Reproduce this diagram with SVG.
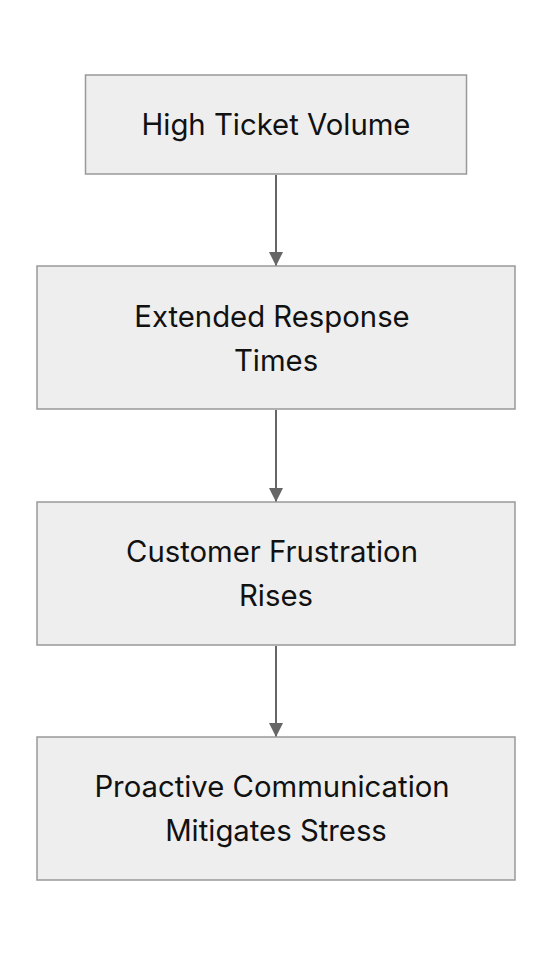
<svg xmlns="http://www.w3.org/2000/svg" width="552" height="956" viewBox="0 0 552 956">
<style>
.box{fill:#eeeeee;stroke:#999999;stroke-width:1.5}
.lbl{font-family:Inter,"Noto Sans","Liberation Sans",sans-serif;font-size:29.3px;fill:#111111;text-anchor:middle}
.edge{stroke:#666666;stroke-width:2;fill:none}
</style>
<defs>
<marker id="arr" markerWidth="14" markerHeight="14" refX="14" refY="7" orient="auto" markerUnits="userSpaceOnUse">
<path d="M0,0 L14,7 L0,14 Z" fill="#666666"/>
</marker>
</defs>
<rect width="552" height="956" fill="#ffffff"/>
<g id="connectors">
<line class="edge" x1="276" y1="175" x2="276" y2="266" marker-end="url(#arr)"/>
<line class="edge" x1="276" y1="410" x2="276" y2="502" marker-end="url(#arr)"/>
<line class="edge" x1="276" y1="646" x2="276" y2="737" marker-end="url(#arr)"/>
</g>
<g id="n1">
<rect class="box" x="85.5" y="75" width="381" height="99"/>
<text class="lbl" x="276" y="135">High Ticket Volume</text>
</g>
<g id="n2">
<rect class="box" x="37" y="266" width="478" height="143"/>
<text class="lbl" x="272" y="327">Extended Response</text>
<text class="lbl" x="276" y="371">Times</text>
</g>
<g id="n3">
<rect class="box" x="37" y="502" width="478" height="143"/>
<text class="lbl" x="272" y="562">Customer Frustration</text>
<text class="lbl" x="276" y="606">Rises</text>
</g>
<g id="n4">
<rect class="box" x="37" y="737" width="478" height="143"/>
<text class="lbl" x="272" y="797">Proactive Communication</text>
<text class="lbl" x="276" y="841">Mitigates Stress</text>
</g>
</svg>
